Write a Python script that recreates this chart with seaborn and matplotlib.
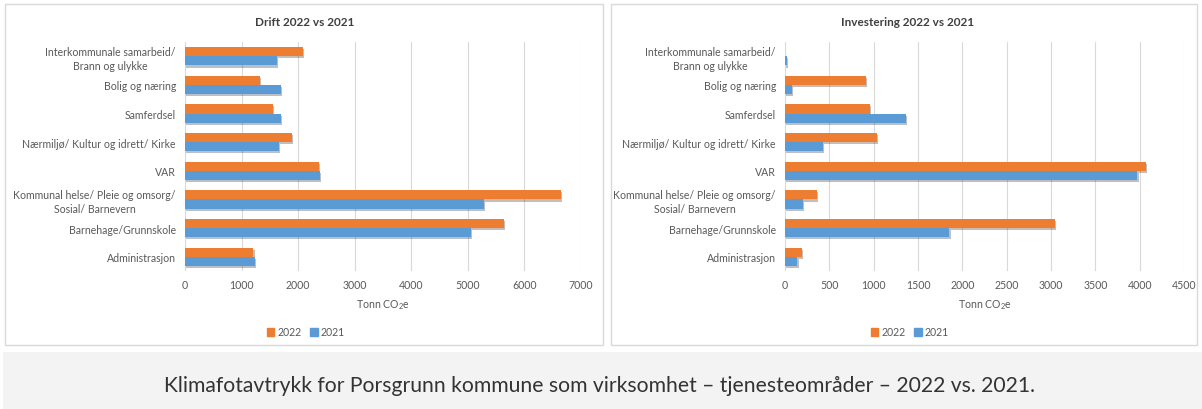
import matplotlib
matplotlib.use("Agg")
import matplotlib.pyplot as plt
import matplotlib.patches as mpatches
import matplotlib.patheffects as pe
import seaborn as sns
import pandas as pd
import numpy as np

categories = [
    "Interkommunale samarbeid/\nBrann og ulykke",
    "Bolig og næring",
    "Samferdsel",
    "Nærmiljø/ Kultur og idrett/ Kirke",
    "VAR",
    "Kommunal helse/ Pleie og omsorg/\nSosial/ Barnevern",
    "Barnehage/Grunnskole",
    "Administrasjon",
]
years = ["2022", "2021"]
drift_2022 = [2090, 1325, 1555, 1885, 2375, 6640, 5640, 1210]
drift_2021 = [1630, 1700, 1700, 1655, 2390, 5290, 5050, 1235]
inv_2022 = [0, 915, 960, 1040, 4075, 365, 3040, 190]
inv_2021 = [25, 75, 1365, 430, 3975, 200, 1855, 140]
drift_ticks = [0, 1000, 2000, 3000, 4000, 5000, 6000, 7000]
inv_ticks = [0, 500, 1000, 1500, 2000, 2500, 3000, 3500, 4000, 4500]
titles = ["Drift 2022 vs 2021", "Investering 2022 vs 2021"]
xlabel = "Tonn CO$_2$e"
caption = "Klimafotavtrykk for Porsgrunn kommune som virksomhet – tjenesteområder – 2022 vs. 2021."

colors = {"2022": "#ED7D31", "2021": "#5B9BD5"}
txt = "#595959"

sns.set_theme(style="white")
plt.rcParams["font.family"] = ["Lato", "DejaVu Sans"]
plt.rcParams["mathtext.fontset"] = "custom"
plt.rcParams["mathtext.rm"] = "Lato"
plt.rcParams["mathtext.it"] = "Lato:italic"
plt.rcParams["mathtext.bf"] = "Lato:bold"

W, H = 1202, 410
fig = plt.figure(figsize=(W / 100, H / 100), dpi=100)
fig.patch.set_facecolor("white")

def fx(px):
    return px / W

def fy(py):
    return 1 - py / H

# panels and caption band
for x0, x1 in [(5, 603), (611, 1197)]:
    fig.patches.append(mpatches.Rectangle((fx(x0), fy(346)), fx(x1 - x0), (346 - 5) / H,
                                          transform=fig.transFigure, facecolor="white",
                                          edgecolor="#d9d9d9", lw=1.0, zorder=-5))
fig.patches.append(mpatches.Rectangle((fx(3), 0), 1, (H - 353) / H, transform=fig.transFigure,
                                      facecolor="#f3f3f3", edgecolor="none", zorder=-5))

def make_df(v22, v21):
    return pd.DataFrame({
        "Kategori": categories * 2,
        "Year": ["2022"] * len(categories) + ["2021"] * len(categories),
        "Verdi": list(v22) + list(v21),
    })

specs = [
    dict(rect=(185, 43, 581, 272), df=make_df(drift_2022, drift_2021), ticks=drift_ticks,
         title=titles[0], tcx=305, lcx=306),
    dict(rect=(785, 43, 1184, 272), df=make_df(inv_2022, inv_2021), ticks=inv_ticks,
         title=titles[1], tcx=908, lcx=910),
]

for s in specs:
    x0, y0, x1, y1 = s["rect"]
    ax = fig.add_axes([fx(x0), fy(y1), fx(x1 - x0), (y1 - y0) / H], zorder=2)
    ax.set_facecolor("none")
    sns.barplot(data=s["df"], y="Kategori", x="Verdi", hue="Year", hue_order=years,
                order=categories, palette=colors, width=0.64, orient="h", ax=ax,
                legend=False, saturation=1, linewidth=0)
    for p in ax.patches:
        p.set_path_effects([pe.SimplePatchShadow(offset=(0.8, -1.5), alpha=0.3), pe.Normal()])
    ax.set_xlim(s["ticks"][0], s["ticks"][-1])
    ax.set_xticks(s["ticks"])
    ax.set_xticklabels([str(t) for t in s["ticks"]])
    ax.grid(axis="x", color="#d9d9d9", lw=0.8)
    ax.set_axisbelow(True)
    for sp in ax.spines.values():
        sp.set_visible(False)
    ax.tick_params(axis="both", length=0, labelsize=7.6, colors=txt)
    ax.tick_params(axis="y", pad=6.5)
    ax.tick_params(axis="x", pad=6)
    for lab in ax.get_yticklabels():
        lab.set_multialignment("center")
        lab.set_linespacing(1.3)
    ax.set_ylabel("")
    ax.set_xlabel(xlabel, fontsize=7.6, color=txt, labelpad=5)
    fig.text(fx(s["tcx"]), fy(23), s["title"], ha="center", va="center",
             fontsize=8.5, fontweight="bold", color="#404040")
    handles = [mpatches.Patch(color=colors[y], label=y) for y in years]
    fig.legend(handles=handles, loc="center", bbox_to_anchor=(fx(s["lcx"]), fy(333)),
               ncol=2, frameon=False, fontsize=7.6, handlelength=0.7, handleheight=0.7,
               handletextpad=0.3, columnspacing=0.8, labelcolor=txt)

fig.text(fx(600), fy(392.5), caption, ha="center", va="baseline", fontsize=15.2, color="#333333")

fig.savefig("out.png", dpi=100)
